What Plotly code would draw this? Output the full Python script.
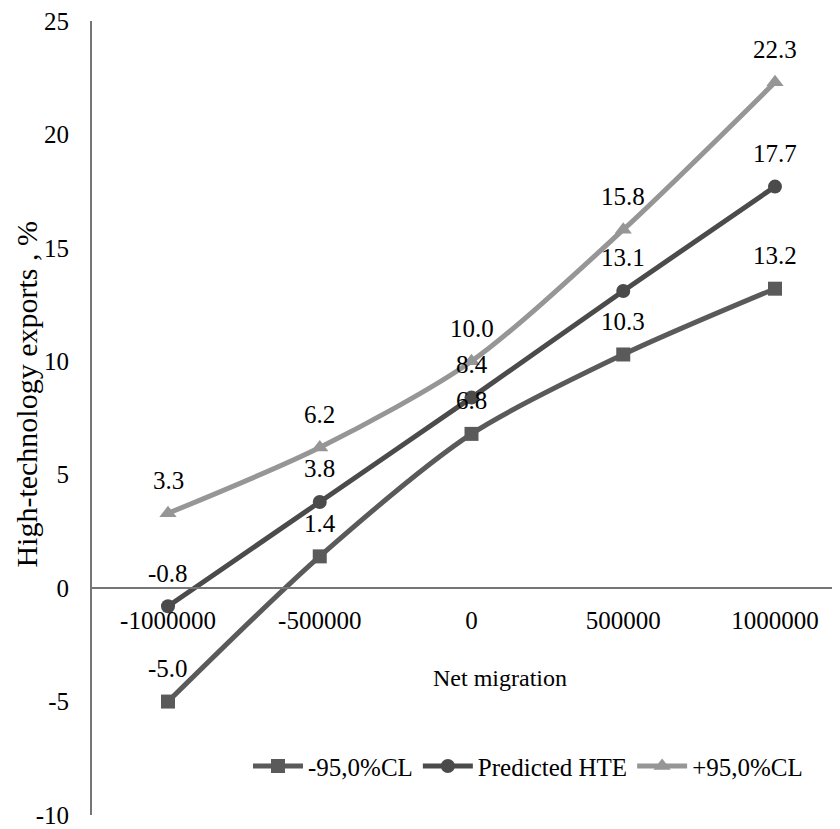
import plotly.graph_objects as go

categories = ["-1000000", "-500000", "0", "500000", "1000000"]
lower_cl = [-5.0, 1.4, 6.8, 10.3, 13.2]
predicted = [-0.8, 3.8, 8.4, 13.1, 17.7]
upper_cl = [3.3, 6.2, 10.0, 15.8, 22.3]
series_names = ["-95,0%CL", "Predicted HTE", "+95,0%CL"]
y_tick_vals = [-10, -5, 0, 5, 10, 15, 20, 25]
y_tick_text = ["-10", "-5", "0", "5", "10", "15", "20", "25"]

FONT = "Liberation Serif, Times New Roman, serif"
OFF = 8  # page body margin
W, H = 840 - OFF, 829 - OFF
ML, MR, MT, MB = 92 - OFF, 0, 21 - OFF, 11
plot_w = W - ML - MR
plot_h = H - MT - MB
x0_px = 168.0 - OFF
step_px = 151.75
xr = [-(x0_px - ML) / step_px, (W - MR - x0_px) / step_px]


def px_x(px):
    return (px - OFF - ML) / plot_w


def px_y(py):
    return (H - MB - (py - OFF)) / plot_h


styles = [
    dict(color="#5a5a5a", symbol="square", size=14),
    dict(color="#4b4b4b", symbol="circle", size=14),
    dict(color="#969696", symbol="triangle-up", size=15),
]

fig = go.Figure()
for name, vals, st in zip(series_names, [lower_cl, predicted, upper_cl], styles):
    fig.add_trace(go.Scatter(
        x=categories, y=vals, name=name, mode="lines+markers",
        line=dict(color=st["color"], width=5, shape="spline", smoothing=0.8),
        marker=dict(color=st["color"], symbol=st["symbol"], size=st["size"]),
        cliponaxis=False,
    ))
    for i, v in enumerate(vals):
        fig.add_annotation(x=i, y=v, text=f"{v:.1f}", showarrow=False,
                           xanchor="center", yanchor="middle", yshift=33,
                           font=dict(family=FONT, size=25, color="black"))

y_min, y_max = -10, 25
fig.update_layout(
    width=W, height=H,
    margin=dict(l=ML, r=MR, t=MT, b=MB),
    paper_bgcolor="white", plot_bgcolor="white",
    font=dict(family=FONT, size=25, color="black"),
    xaxis=dict(type="category", range=xr, showgrid=False, zeroline=False,
               showline=True, linecolor="#767676", linewidth=2,
               anchor="free", position=(0 - y_min) / (y_max - y_min),
               ticks="", ticklabelstandoff=10,
               tickfont=dict(family=FONT, size=25, color="black")),
    yaxis=dict(range=[y_min, y_max], tickmode="array", tickvals=y_tick_vals,
               ticktext=y_tick_text, showgrid=False, zeroline=False,
               showline=True, linecolor="#767676", linewidth=2,
               ticks="", ticklabelstandoff=16, ticklabeloverflow="allow",
               tickfont=dict(family=FONT, size=25, color="black")),
    showlegend=True,
    legend=dict(orientation="h", x=1.0 - 32 / plot_w, xanchor="right",
                y=px_y(769), yanchor="middle",
                font=dict(family=FONT, size=25, color="black"),
                bgcolor="rgba(0,0,0,0)", itemwidth=50, traceorder="normal"),
)

fig.add_annotation(xref="paper", yref="paper", x=px_x(500), y=px_y(680),
                   xanchor="center", yanchor="middle",
                   text="Net migration", showarrow=False,
                   font=dict(family=FONT, size=24, color="black"))
fig.add_annotation(xref="paper", yref="paper", x=px_x(27), y=px_y(396),
                   xanchor="center", yanchor="middle",
                   text="High-technology exports , %", showarrow=False, textangle=-90,
                   font=dict(family=FONT, size=30, color="black"))

fig.write_html("out.html")
